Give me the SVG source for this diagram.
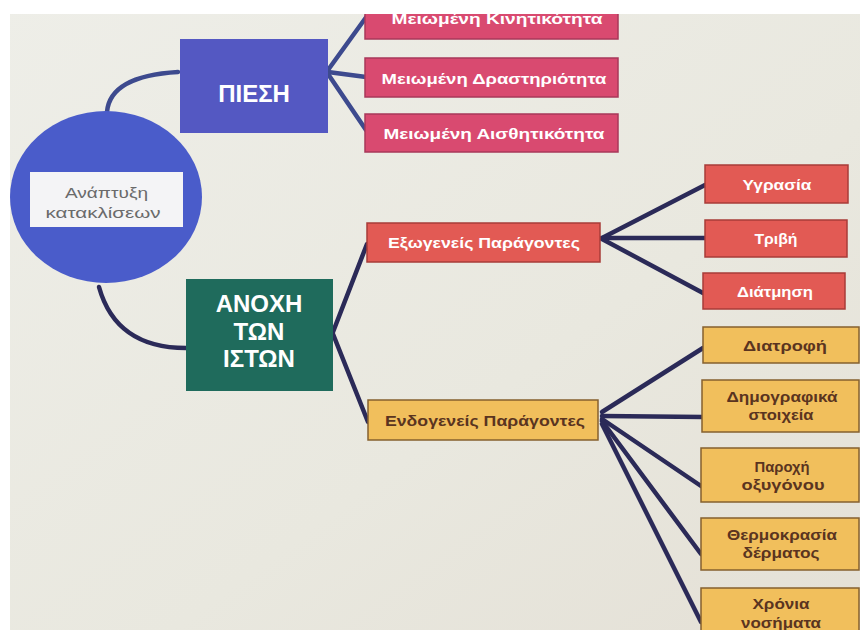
<svg xmlns="http://www.w3.org/2000/svg" width="860" height="630" viewBox="0 0 860 630">
<defs>
<style>
.lbl{font-family:"Liberation Sans",Arial,sans-serif;font-weight:bold;text-anchor:middle}
.w{fill:#ffffff}
.d{fill:#5a3420}
.pink{fill:#d94a70;stroke:#a8385a;stroke-width:1.5}
.red{fill:#e25a54;stroke:#a83c38;stroke-width:1.5}
.yel{fill:#f1bf5c;stroke:#85602e;stroke-width:1.5}
.c1{fill:none;stroke:#3d4a8e;stroke-width:4.5;stroke-linecap:round}
.c2{fill:none;stroke:#2b2a58;stroke-width:4.5;stroke-linecap:round}
</style>
<linearGradient id="bg" x1="0" y1="0" x2="1" y2="1">
<stop offset="0" stop-color="#eeeee8"/>
<stop offset="0.6" stop-color="#e9e8df"/>
<stop offset="1" stop-color="#e4e0d6"/>
</linearGradient>
</defs>
<rect x="0" y="0" width="860" height="630" fill="url(#bg)"/>

<g id="connectors">
<path class="c1" d="M107,112 Q110,76 178,72"/>
<path class="c2" d="M99,287 Q116,348 186,348"/>
<line class="c1" x1="328" y1="70" x2="367" y2="16"/>
<line class="c1" x1="328" y1="72" x2="366" y2="77"/>
<line class="c1" x1="328" y1="74" x2="366" y2="130"/>
<line class="c2" x1="333" y1="332" x2="367" y2="244"/>
<line class="c2" x1="333" y1="334" x2="368" y2="422"/>
<line class="c2" x1="602" y1="238" x2="705" y2="185"/>
<line class="c2" x1="602" y1="238" x2="705" y2="238"/>
<line class="c2" x1="602" y1="239" x2="703" y2="293"/>
<line class="c2" x1="602" y1="412" x2="703" y2="348"/>
<line class="c2" x1="602" y1="416" x2="703" y2="417"/>
<line class="c2" x1="602" y1="419" x2="701" y2="486"/>
<line class="c2" x1="602" y1="421" x2="701" y2="554"/>
<line class="c2" x1="602" y1="424" x2="701" y2="622"/>
</g>

<g id="n-anaptyxi">
<ellipse cx="106" cy="197" rx="96" ry="86" fill="#4a5cca"/>
<rect x="30" y="172" width="153" height="55" fill="#f4f4f6"/>
<text x="106.5" y="198" font-family="'Liberation Sans',Arial,sans-serif" font-size="15" fill="#6a6a6a" text-anchor="middle" textLength="83" lengthAdjust="spacingAndGlyphs">Ανάπτυξη</text>
<text x="103" y="218" font-family="'Liberation Sans',Arial,sans-serif" font-size="15" fill="#6a6a6a" text-anchor="middle" textLength="115" lengthAdjust="spacingAndGlyphs">κατακλίσεων</text>
</g>

<g id="n-piesi">
<rect x="180" y="39" width="148" height="94" fill="#5458c2"/>
<text class="lbl w" x="254" y="102" font-size="24">ΠΙΕΣΗ</text>
</g>

<g id="n-kinitikotita">
<rect class="pink" x="365" y="-5" width="253" height="44"/>
<text class="lbl w" x="497" y="24" font-size="15" textLength="211" lengthAdjust="spacingAndGlyphs">Μειωμένη Κινητικότητα</text>
</g>
<g id="n-drastiriotita">
<rect class="pink" x="365" y="58" width="253" height="39"/>
<text class="lbl w" x="494" y="84" font-size="15" textLength="225" lengthAdjust="spacingAndGlyphs">Μειωμένη Δραστηριότητα</text>
</g>
<g id="n-aisthitikotita">
<rect class="pink" x="365" y="114" width="253" height="38"/>
<text class="lbl w" x="494" y="139" font-size="15" textLength="221" lengthAdjust="spacingAndGlyphs">Μειωμένη Αισθητικότητα</text>
</g>

<g id="n-anochi">
<rect x="186" y="279" width="147" height="112" fill="#1f6b5c"/>
<text class="lbl w" x="259" y="312" font-size="24">ΑΝΟΧΗ</text>
<text class="lbl w" x="259" y="340" font-size="24">ΤΩΝ</text>
<text class="lbl w" x="259" y="367" font-size="24">ΙΣΤΩΝ</text>
</g>

<g id="n-exogeneis">
<rect class="red" x="367" y="223" width="233" height="39"/>
<text class="lbl w" x="484" y="248" font-size="15" textLength="192" lengthAdjust="spacingAndGlyphs">Εξωγενείς Παράγοντες</text>
</g>
<g id="n-endogeneis">
<rect class="yel" x="368" y="400" width="230" height="40"/>
<text class="lbl d" x="485" y="426" font-size="15" textLength="200" lengthAdjust="spacingAndGlyphs">Ενδογενείς Παράγοντες</text>
</g>

<g id="n-ygrasia">
<rect class="red" x="705" y="165" width="143" height="38"/>
<text class="lbl w" x="777" y="190" font-size="15" textLength="69" lengthAdjust="spacingAndGlyphs">Υγρασία</text>
</g>
<g id="n-trivi">
<rect class="red" x="705" y="220" width="142" height="37"/>
<text class="lbl w" x="776" y="244" font-size="15" textLength="43" lengthAdjust="spacingAndGlyphs">Τριβή</text>
</g>
<g id="n-diatmisi">
<rect class="red" x="703" y="273" width="142" height="36"/>
<text class="lbl w" x="775" y="297" font-size="15" textLength="76" lengthAdjust="spacingAndGlyphs">Διάτμηση</text>
</g>

<g id="n-diatrofi">
<rect class="yel" x="703" y="327" width="156" height="36"/>
<text class="lbl d" x="785" y="351" font-size="15" textLength="84" lengthAdjust="spacingAndGlyphs">Διατροφή</text>
</g>
<g id="n-dimografika">
<rect class="yel" x="702" y="380" width="157" height="52"/>
<text class="lbl d" x="782" y="402" font-size="15" textLength="111" lengthAdjust="spacingAndGlyphs">Δημογραφικά</text>
<text class="lbl d" x="781" y="420" font-size="15" textLength="65" lengthAdjust="spacingAndGlyphs">στοιχεία</text>
</g>
<g id="n-paroxi">
<rect class="yel" x="701" y="448" width="158" height="54"/>
<text class="lbl d" x="782" y="472" font-size="15" textLength="55" lengthAdjust="spacingAndGlyphs">Παροχή</text>
<text class="lbl d" x="783" y="490" font-size="15" textLength="83" lengthAdjust="spacingAndGlyphs">οξυγόνου</text>
</g>
<g id="n-thermokrasia">
<rect class="yel" x="701" y="518" width="158" height="52"/>
<text class="lbl d" x="782" y="540" font-size="15" textLength="110" lengthAdjust="spacingAndGlyphs">Θερμοκρασία</text>
<text class="lbl d" x="781" y="558" font-size="15" textLength="77" lengthAdjust="spacingAndGlyphs">δέρματος</text>
</g>
<g id="n-chronia">
<rect class="yel" x="701" y="588" width="158" height="52"/>
<text class="lbl d" x="781" y="609" font-size="15" textLength="57" lengthAdjust="spacingAndGlyphs">Χρόνια</text>
<text class="lbl d" x="781" y="628" font-size="15" textLength="80" lengthAdjust="spacingAndGlyphs">νοσήματα</text>
</g>

<rect x="0" y="0" width="860" height="14" fill="#ffffff"/>
<rect x="0" y="0" width="10" height="630" fill="#ffffff"/>
</svg>
